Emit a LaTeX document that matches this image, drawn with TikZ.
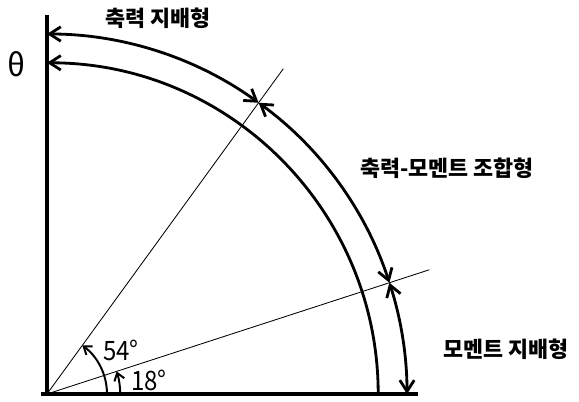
\documentclass[tikz,border=0pt]{standalone}
\usepackage{fontspec}
\setmainfont{Noto Sans CJK KR}
\usepackage{tikz}
\usetikzlibrary{arrows.meta, positioning, calc}

\begin{document}
\begin{tikzpicture}[
    axis/.style={line width=2.8pt},
    guide/.style={line width=0.6pt},
    bigarc/.style={line width=2pt, {Straight Barb[length=2.8mm, width=3.6mm]}-{Straight Barb[length=2.8mm, width=3.6mm]}},
    innerarc/.style={line width=2pt, {Straight Barb[length=2.8mm, width=3.6mm]}-},
    anglearc/.style={line width=1.4pt, -{Straight Barb[length=1.8mm, width=2.6mm]}},
    label/.style={font=\fontsize{15.5}{16}\selectfont\bfseries, inner sep=0pt},
    anglelabel/.style={font=\fontsize{19}{19}\selectfont, inner sep=0pt, xscale=0.9}
]
\useasboundingbox (-1.175,-0.175) rectangle (13.3,9.85);

\coordinate (O) at (0,0);
\coordinate (ytop) at (0,9.47);
\coordinate (xend) at (9.27,0);
\coordinate (xstart) at (-0.15,0);

% axes
\draw[axis] (O) -- (ytop);
\draw[axis] (xstart) -- (xend);

% angle lines
\draw[guide] (O) -- (54:10.05) coordinate (l54);
\draw[guide] (O) -- (18:10.05) coordinate (l18);

% inner arc
\draw[innerarc] (O) ++(90:8.28) coordinate (b90) arc[start angle=90, end angle=0, radius=8.28] coordinate (b0);
% outer arcs
\draw[bigarc] (O) ++(90:9.0) coordinate (a90) arc[start angle=90, end angle=54, radius=9.0] coordinate (a54);
\draw[bigarc] (a54) arc[start angle=54, end angle=18, radius=9.0] coordinate (a18);
\draw[bigarc] (a18) arc[start angle=18, end angle=0, radius=9.0] coordinate (a0);

% small angle arcs
\draw[anglearc] (O) ++(1.5,0) arc[start angle=0, end angle=54, radius=1.5];
\draw[anglearc] (O) ++(1.83,0) arc[start angle=0, end angle=18, radius=1.83];

% labels
\node[label, font=\fontsize{22}{22}\selectfont] (lbltheta) at (-0.75,8.25) {θ};
\node[label] (lblaxial) at (2.78,9.4) {축력 지배형};
\node[label] (lblcombined) at (10.0,5.65) {축력-모멘트 조합형};
\node[label] (lblmoment) at (11.48,1.12) {모멘트 지배형};
\node[anglelabel] (lbl54) at (1.85,1.1) {54°};
\node[anglelabel] (lbl18) at (2.55,0.33) {18°};
\end{tikzpicture}
\end{document}
